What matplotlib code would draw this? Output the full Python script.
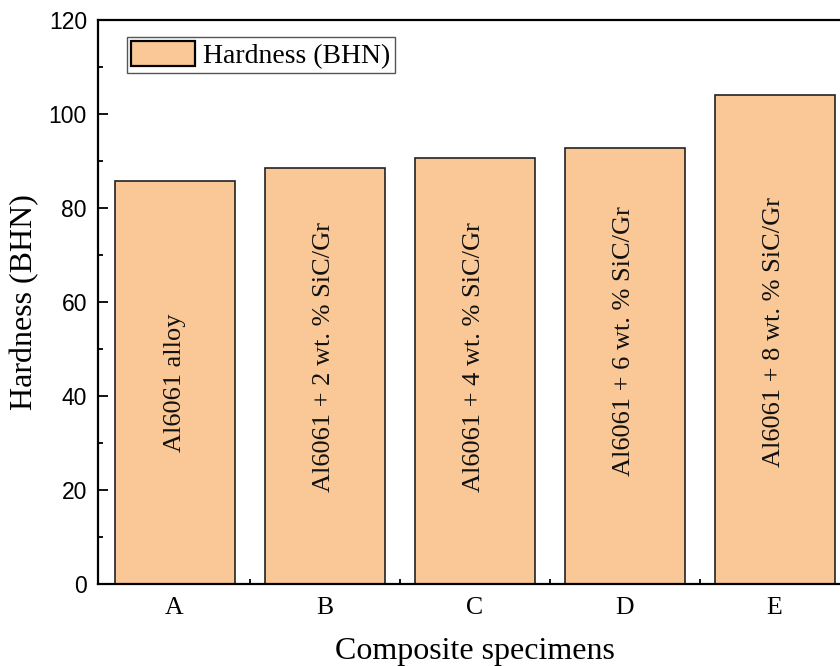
import matplotlib
matplotlib.use("Agg")
import matplotlib.pyplot as plt
from matplotlib.ticker import MultipleLocator, FixedLocator

# ---- data ----
categories = ["A", "B", "C", "D", "E"]
hardness = [85.8, 88.6, 90.6, 92.8, 104.0]
bar_labels = ["Al6061 alloy",
              "Al6061 + 2 wt. % SiC/Gr",
              "Al6061 + 4 wt. % SiC/Gr",
              "Al6061 + 6 wt. % SiC/Gr",
              "Al6061 + 8 wt. % SiC/Gr"]
legend_label = "Hardness (BHN)"
ylabel = "Hardness (BHN)"
xlabel = "Composite specimens"

# layout: vertical centre of the in-bar labels (data units)
label_y = [42.8, 48.3, 48.3, 51.7, 53.6]

serif = "Liberation Serif"
sans = "Liberation Sans"
bar_color = "#FAC896"

fig = plt.figure(figsize=(8.4, 6.66), dpi=100)
ax = fig.add_axes([98/840, 1-584/666, 753/840, 564/666])

x = list(range(len(categories)))
bars = ax.bar(x, hardness, width=0.8, color=bar_color, edgecolor="#222222",
              linewidth=1.2, label=legend_label, zorder=2)

for xi, txt, yy in zip(x, bar_labels, label_y):
    ax.text(xi, yy, txt, rotation=90, ha="center", va="center",
            fontfamily=serif, fontsize=19, color="#111111", zorder=3)

ax.set_xlim(-0.51, 4.51)
ax.set_ylim(0, 120)
ax.yaxis.set_major_locator(MultipleLocator(20))
ax.yaxis.set_minor_locator(MultipleLocator(10))
ax.set_xticks(x)
ax.set_xticklabels(categories, fontfamily=serif, fontsize=18.5)
ax.xaxis.set_minor_locator(FixedLocator([0.5, 1.5, 2.5, 3.5]))

for lab in ax.get_yticklabels():
    lab.set_fontfamily(sans)
    lab.set_fontsize(16.5)

ax.tick_params(axis="both", which="major", direction="in", length=7, width=1.3)
ax.tick_params(axis="both", which="minor", direction="in", length=3.5, width=1.3)
ax.tick_params(axis="y", which="major", pad=8)
ax.tick_params(axis="x", which="major", pad=9)
ax.tick_params(top=False, right=False, which="both")

for s in ["left", "bottom", "top", "right"]:
    ax.spines[s].set_linewidth(1.6)
    ax.spines[s].set_color("black")

ax.set_ylabel(ylabel, fontfamily=serif, fontsize=23, labelpad=7)
ax.set_xlabel(xlabel, fontfamily=serif, fontsize=23, labelpad=13)

leg = ax.legend(loc="upper left", bbox_to_anchor=((127-98)/753, (584-37)/564),
                borderaxespad=0, prop={"family": serif, "size": 20},
                fancybox=False, framealpha=1, edgecolor="#555555",
                handlelength=2.3, handleheight=1.0, borderpad=0.15,
                handletextpad=0.3)
leg.get_frame().set_linewidth(1.0)
for h in leg.legend_handles:
    h.set_edgecolor("black")
    h.set_linewidth(1.6)

fig.savefig("out.png", dpi=100)
